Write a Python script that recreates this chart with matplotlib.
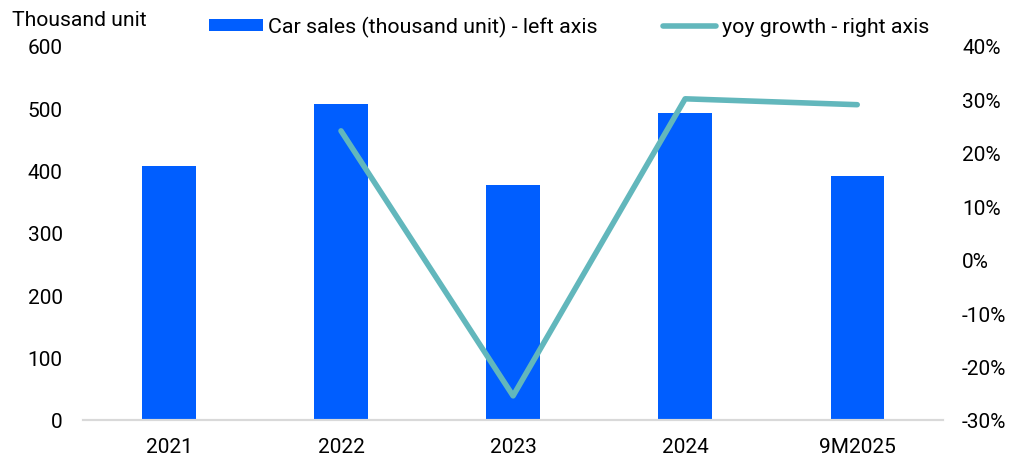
import matplotlib.pyplot as plt
from matplotlib.ticker import FuncFormatter

plt.rcParams['font.family'] = ['Roboto', 'DejaVu Sans']

years = ["2021", "2022", "2023", "2024", "9M2025"]
car_sales = [408, 507, 377, 493, 392]
yoy_growth = [None, 24.1, -25.5, 30.1, 29.0]

bar_color = "#005EFF"
line_color = "#62B7BC"

fig = plt.figure(figsize=(10.11, 4.6), dpi=100)
ax = fig.add_axes([0.082, 0.085, 0.851, 0.813])
ax2 = ax.twinx()

x = list(range(len(years)))
bars = ax.bar(x, car_sales, width=0.31, color=bar_color,
              label="Car sales (thousand unit) - left axis")
lx = [i for i, v in zip(x, yoy_growth) if v is not None]
ly = [v for v in yoy_growth if v is not None]
line, = ax2.plot(lx, ly, color=line_color, linewidth=4,
                 solid_capstyle="round", solid_joinstyle="round",
                 label="yoy growth - right axis")

ax.set_xlim(-0.5, len(years) - 0.5)
ax.set_ylim(0, 600)
ax.set_yticks(range(0, 601, 100))
ax2.set_ylim(-30, 40)
ax2.set_yticks(range(-30, 41, 10))
ax2.yaxis.set_major_formatter(FuncFormatter(lambda v, p: f"{v:.0f}%"))

ax.set_xticks(x)
ax.set_xticklabels(years)

for a in (ax, ax2):
    for s in ("top", "left", "right"):
        a.spines[s].set_visible(False)
    a.spines["bottom"].set_color("#D9D9D9")
    a.spines["bottom"].set_linewidth(1.5)
    a.tick_params(length=0, labelsize=15, colors="black")
ax.tick_params(axis="x", pad=12)
ax.tick_params(axis="y", pad=14.5)
ax2.tick_params(axis="y", pad=13.5)

fig.text(0.012, 0.955, "Thousand unit", fontsize=15.2, va="center", ha="left")

fig.legend(handles=[bars, line], loc="center", bbox_to_anchor=(0.563, 0.94),
           ncol=2, frameon=False, fontsize=15.4, handlelength=2.5,
           handletextpad=0.25, columnspacing=3.05, handleheight=0.5)

fig.savefig("out.png", dpi=100)
